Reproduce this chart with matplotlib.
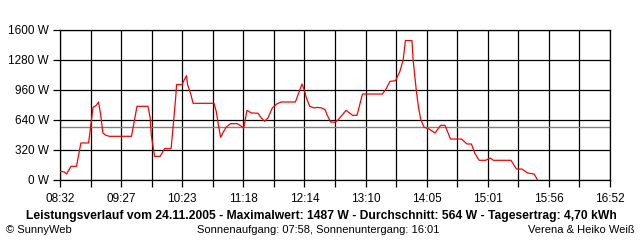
import matplotlib
matplotlib.use("Agg")
import matplotlib.pyplot as plt
import numpy as np

times = ["08:32", "08:36", "08:38", "08:42", "08:47", "08:51", "08:58", "09:00",
         "09:02", "09:05", "09:07", "09:09", "09:11", "09:14", "09:17", "09:37",
         "09:42", "09:52", "09:54", "09:55", "09:58", "10:03", "10:07", "10:13",
         "10:15", "10:17", "10:18", "10:23", "10:25", "10:27", "10:28", "10:31",
         "10:33", "10:52", "10:54", "10:56", "10:58", "11:00", "11:03", "11:07",
         "11:13", "11:16", "11:19", "11:22", "11:26", "11:32", "11:35", "11:38",
         "11:41", "11:45", "11:49", "11:53", "12:06", "12:09", "12:12", "12:14",
         "12:16", "12:19", "12:23", "12:26", "12:30", "12:33", "12:35", "12:38",
         "12:42", "12:45", "12:52", "12:58", "13:02", "13:07", "13:25", "13:28",
         "13:32", "13:37", "13:41", "13:44", "13:46", "13:52", "13:53", "13:56",
         "13:58", "14:00", "14:03", "14:07", "14:13", "14:18", "14:22", "14:27",
         "14:37", "14:42", "14:46", "14:49", "14:53", "14:59", "15:03", "15:06",
         "15:22", "15:27", "15:32", "15:37", "15:43", "15:46"]
watts = [93, 85, 64, 146, 146, 395, 395, 583,
         775, 796, 832, 697, 501, 476, 466, 466,
         786, 786, 661, 476, 252, 252, 334, 334,
         590, 857, 1017, 1017, 1070, 1113, 1017, 910,
         818, 818, 733, 590, 455, 501, 562, 601,
         601, 580, 555, 743, 715, 712, 661, 626,
         661, 768, 811, 832, 832, 928, 1024, 963,
         875, 786, 768, 775, 768, 750, 690, 619,
         615, 643, 743, 690, 690, 917, 917, 963,
         1052, 1059, 1159, 1283, 1487, 1487, 1283, 946,
         768, 643, 562, 548, 501, 583, 583, 437,
         437, 384, 384, 288, 210, 210, 235, 210,
         210, 117, 117, 75, 64, 2]

average = 564
x_labels = ["08:32", "09:27", "10:23", "11:18", "12:14", "13:10", "14:05", "15:01", "15:56", "16:52"]
y_ticks = [0, 320, 640, 960, 1280, 1600]

title = ("Leistungsverlauf vom 24.11.2005 - Maximalwert: 1487 W - "
         "Durchschnitt: 564 W - Tagesertrag: 4,70 kWh")
footer_left = "\u00a9 SunnyWeb"
footer_mid = "Sonnenaufgang: 07:58, Sonnenuntergang: 16:01"
footer_right = "Verena & Heiko Wei\u00df"


def to_min(s):
    h, m = s.split(":")
    return int(h) * 60 + int(m)


plt.rcParams['font.family'] = ['Liberation Sans Narrow', 'Liberation Sans', 'DejaVu Sans']

fig = plt.figure(figsize=(6.4, 2.4), dpi=100, facecolor='white')
ax = fig.add_axes([60 / 640, 60 / 240, 550 / 640, 150 / 240])

t = [to_min(s) for s in times]
start, end = to_min(x_labels[0]), to_min(x_labels[-1])
major = np.linspace(start, end, len(x_labels))
minor = np.linspace(start, end, 2 * (len(x_labels) - 1) + 1)

ax.set_xlim(start, end)
ax.set_ylim(0, 1600)
ax.set_xticks(major)
ax.set_xticklabels(x_labels)
ax.set_xticks(minor, minor=True)
ax.set_yticks(y_ticks)
ax.set_yticklabels([f"{v} W" for v in y_ticks])

ax.grid(True, which='both', axis='x', color='black', linewidth=0.9)
ax.grid(True, which='major', axis='y', color='black', linewidth=0.9)
ax.tick_params(axis='both', which='both', length=5, width=0.9, color='black',
               labelsize=8.5, pad=3)
ax.tick_params(axis='x', which='major', pad=4)
for sp in ax.spines.values():
    sp.set_linewidth(0.9)
    sp.set_color('black')

ax.axhline(average, color='#808080', linewidth=1.0, zorder=2)
ax.plot(t, watts, color='#ff0000', linewidth=0.9, zorder=3)

fig.text(321 / 640, 1 - 216 / 240, title, ha='center', va='center',
         fontsize=8.7, fontweight='bold')
fig.text(6 / 640, 1 - 230 / 240, footer_left, ha='left', va='center', fontsize=8)
fig.text(318 / 640, 1 - 230 / 240, footer_mid, ha='center', va='center', fontsize=8)
fig.text(635 / 640, 1 - 230 / 240, footer_right, ha='right', va='center', fontsize=8)

fig.savefig('out.png', dpi=100, facecolor='white')
